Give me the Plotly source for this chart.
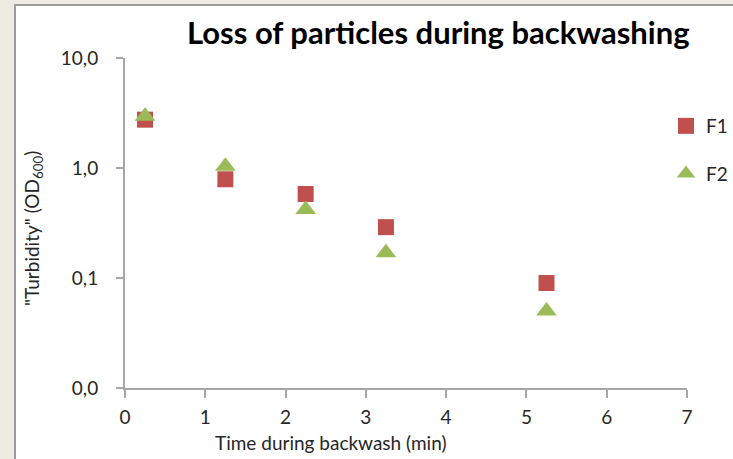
import plotly.graph_objects as go

time_min = [0.25, 1.25, 2.25, 3.25, 5.25]
f1_turbidity = [2.75, 0.79, 0.58, 0.29, 0.09]
f2_turbidity = [2.95, 1.04, 0.42, 0.17, 0.05]

y_tickvals = [0.01, 0.1, 1, 10]
y_ticktext = ["0,0", "0,1", "1,0", "10,0"]
x_tickvals = [0, 1, 2, 3, 4, 5, 6, 7]

FONT = "Lato"
AX = "#a6a6a6"
TXT = "#262626"

fig = go.Figure()
fig.add_trace(go.Scatter(x=time_min, y=f1_turbidity, mode="markers", name="F1",
                         legendgroup="f1",
                         marker=dict(symbol="square", size=16, color="#C0504D",
                                     line=dict(width=0))))
fig.add_trace(go.Scatter(x=time_min, y=f2_turbidity, mode="markers", name="F2",
                         legendgroup="f2",
                         marker=dict(symbol="triangle-up", size=18, color="#9BBB59",
                                     line=dict(width=0))))

L, R, T, B = 125, 46, 58, 71
W, H = 733, 459
pw, ph = W - L - R, H - T - B

def px2x(px):
    return (px - L) / pw

def py2y(py):
    return (H - B - py) / ph

fig.add_shape(type="rect", xref="paper", yref="paper",
              x0=px2x(15), x1=px2x(760), y0=py2y(5), y1=py2y(480),
              fillcolor="white", line=dict(color="#9c9c9c", width=2), layer="below")

fig.update_layout(
    width=W, height=H,
    margin=dict(l=L, r=R, t=T, b=B, autoexpand=False),
    paper_bgcolor="#EEEBE1",
    plot_bgcolor="rgba(0,0,0,0)",
    font=dict(family=FONT, size=19, color=TXT),
    showlegend=True,
    legend=dict(x=px2x(666), y=py2y(107), xanchor="left", yanchor="top",
                bgcolor="rgba(0,0,0,0)", font=dict(size=19, color=TXT),
                tracegroupgap=20, itemwidth=30),
    annotations=[
        dict(text="<b>Loss of particles during backwashing</b>", xref="paper", yref="paper",
             x=px2x(438), y=py2y(32), xanchor="center", yanchor="middle",
             showarrow=False, font=dict(size=31, color="black", family=FONT)),
        dict(text="Time during backwash (min)", xref="paper", yref="paper",
             x=px2x(331), y=py2y(442), xanchor="center", yanchor="middle",
             showarrow=False, font=dict(size=19, color=TXT)),
        dict(text="\"Turbidity\" (OD<sub>600</sub>)", xref="paper", yref="paper",
             x=px2x(33), y=py2y(229), xanchor="center", yanchor="middle", textangle=-90,
             showarrow=False, font=dict(size=19, color=TXT)),
    ],
)

fig.update_xaxes(range=[0, 7], tickvals=x_tickvals, showgrid=False, zeroline=False,
                 showline=True, linecolor=AX, linewidth=2, ticks="outside", ticklen=8,
                 tickcolor=AX, tickwidth=1.5, ticklabelstandoff=3)
fig.update_yaxes(type="log", range=[-2, 1], tickvals=y_tickvals, ticktext=y_ticktext,
                 showgrid=False, zeroline=False, showline=True, linecolor=AX, linewidth=2,
                 ticks="outside", ticklen=7, tickcolor=AX, tickwidth=1.5,
                 ticklabelstandoff=14)

fig.write_html("out.html")
